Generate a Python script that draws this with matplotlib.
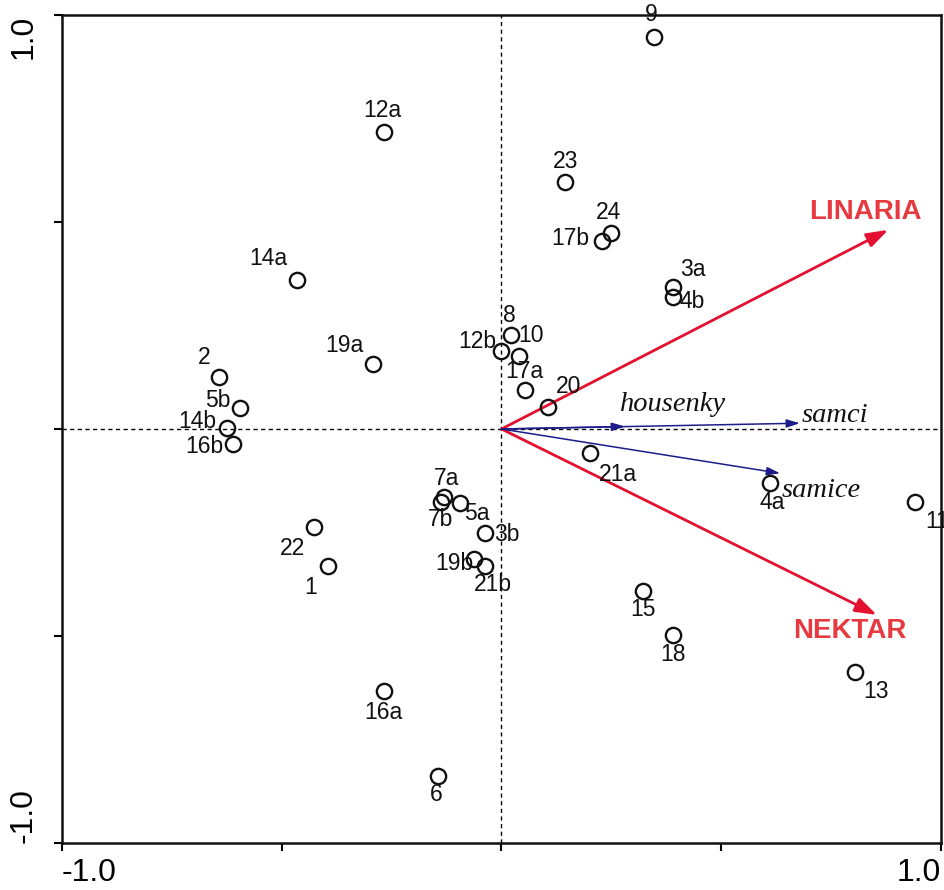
import matplotlib
matplotlib.use("Agg")
import matplotlib.pyplot as plt

# ---- data (sample scores) ----
labels = ["1", "2", "3a", "3b", "4a", "4b", "5a", "5b", "6", "7a", "7b", "8", "9", "10",
          "11", "12a", "12b", "13", "14a", "14b", "15", "16a", "16b", "17a", "17b", "18",
          "19a", "19b", "20", "21a", "21b", "22", "23", "24"]
x_scores = [-0.395, -0.643, 0.391, -0.038, 0.611, 0.391, -0.094, -0.595, -0.144, -0.130,
            -0.138, 0.022, 0.346, 0.040, 0.941, -0.268, 0.000, 0.805, -0.466, -0.625,
            0.322, -0.267, -0.610, 0.053, 0.229, 0.390, -0.292, -0.063, 0.105, 0.201,
            -0.038, -0.426, 0.145, 0.249]
y_scores = [-0.331, 0.125, 0.344, -0.250, -0.131, 0.320, -0.179, 0.050, -0.838, -0.164,
            -0.176, 0.227, 0.948, 0.177, -0.176, 0.718, 0.189, -0.588, 0.360, 0.002,
            -0.391, -0.633, -0.036, 0.093, 0.454, -0.498, 0.156, -0.315, 0.054, -0.057,
            -0.330, -0.236, 0.596, 0.474]

# ---- environmental variables (red) ----
env_names = ["LINARIA", "NEKTAR"]
env_x = [0.880, 0.854]
env_y = [0.481, -0.449]

# ---- species (blue) ----
spec_names = ["housenky", "samci", "samice"]
spec_x = [0.281, 0.679, 0.634]
spec_y = [0.006, 0.014, -0.107]

# ---- axis ticks ----
ticks = [-1.0, -0.5, 0.0, 0.5, 1.0]
tick_labels = ["-1.0", "", "", "", "1.0"]

# label offsets in pixels (dx right, dy down) relative to point
lab_off_px = {
    "1": (-17, 21), "2": (-15, -20), "3a": (19, -17), "3b": (22, 2), "4a": (2, 19),
    "4b": (19, 5), "5a": (17, 10), "5b": (-22, -8), "6": (-2, 19), "7a": (2, -18),
    "7b": (0, 18), "8": (-2, -20), "9": (-2, -22), "10": (12, -20), "11": (22, 20),
    "12a": (-1, -21), "12b": (-24, -9), "13": (21, 19), "14a": (-28, -21),
    "14b": (-30, -7), "15": (0, 19), "16a": (-1, 21), "16b": (-29, 3), "17a": (0, -19),
    "17b": (-32, -3), "18": (0, 19), "19a": (-29, -19), "19b": (-19, 4), "20": (21, -20),
    "21a": (28, 22), "21b": (8, 19), "22": (-22, 22), "23": (0, -21), "24": (-2, -20),
}
PX2PT = 0.72

SANS = ["Liberation Sans", "DejaVu Sans"]
SERIF = ["Liberation Serif", "DejaVu Serif"]
RED_LINE = "#E3102F"
RED_TEXT = "#E63A40"
BLUE = "#1C1C8A"

fig = plt.figure(figsize=(9.45, 8.90), dpi=100)
ax = fig.add_axes([62 / 945, 47 / 890, 879 / 945, 828 / 890])
ax.set_xlim(-1, 1)
ax.set_ylim(-1, 1)

# dashed zero lines
ax.axhline(0, color="black", lw=1.0, ls=(0, (3, 2.5)), zorder=1)
ax.axvline(0, color="black", lw=1.0, ls=(0, (3, 2.5)), zorder=1)

# points
ax.plot(x_scores, y_scores, ls="none", marker="o", ms=11, mfc="none",
        mec="#111111", mew=1.7, zorder=3)
for lab, xv, yv in zip(labels, x_scores, y_scores):
    dx, dy = lab_off_px[lab]
    t = ax.annotate(lab, (xv, yv), xytext=(dx * PX2PT, -dy * PX2PT),
                    textcoords="offset points", ha="center", va="center",
                    fontsize=16.5, family=SANS, color="#111111", zorder=4,
                    annotation_clip=False)
    t.set_clip_on(True)

# red arrows
env_off_px = {"LINARIA": (-23, -18), "NEKTAR": (-27, 16)}
for name, xv, yv in zip(env_names, env_x, env_y):
    ax.annotate("", xy=(xv, yv), xytext=(0, 0),
                arrowprops=dict(arrowstyle="-|>,head_length=0.65,head_width=0.22",
                                mutation_scale=20, color=RED_LINE, lw=2.0,
                                shrinkA=0, shrinkB=0), zorder=2)
    dx, dy = env_off_px[name]
    ax.annotate(name, (xv, yv), xytext=(dx * PX2PT, -dy * PX2PT),
                textcoords="offset points", ha="center", va="center",
                fontsize=20, fontweight="bold", family=SANS, color=RED_TEXT)

# blue arrows
spec_off_px = {"housenky": (48, -22, "center"), "samci": (2, -8, "left"),
               "samice": (2, 17, "left")}
for name, xv, yv in zip(spec_names, spec_x, spec_y):
    ax.annotate("", xy=(xv, yv), xytext=(0, 0),
                arrowprops=dict(arrowstyle="-|>,head_length=0.8,head_width=0.25",
                                mutation_scale=10, color=BLUE, lw=1.1,
                                shrinkA=0, shrinkB=0), zorder=2)
    dx, dy, ha = spec_off_px[name]
    ax.annotate(name, (xv, yv), xytext=(dx * PX2PT, -dy * PX2PT),
                textcoords="offset points", ha=ha, va="center",
                fontsize=20.5, style="italic", family=SERIF, color="#111111")

# axes styling
for s in ax.spines.values():
    s.set_linewidth(1.8)
    s.set_color("#111111")
ax.set_xticks(ticks)
ax.set_yticks(ticks)
ax.set_xticklabels(tick_labels)
ax.set_yticklabels(tick_labels)
ax.tick_params(direction="out", length=6, width=1.5, labelsize=23,
               top=False, right=False)
ax.tick_params(axis="x", pad=5)
ax.tick_params(axis="y", pad=11)
for t in ax.get_xticklabels() + ax.get_yticklabels():
    t.set_family(SANS)
xl = ax.get_xticklabels()
xl[0].set_ha("left")
xl[-1].set_ha("right")
yl = ax.get_yticklabels()
for t in yl:
    t.set_rotation(90)
yl[0].set_va("bottom")
yl[-1].set_va("top")

fig.savefig("out.png", dpi=100)
